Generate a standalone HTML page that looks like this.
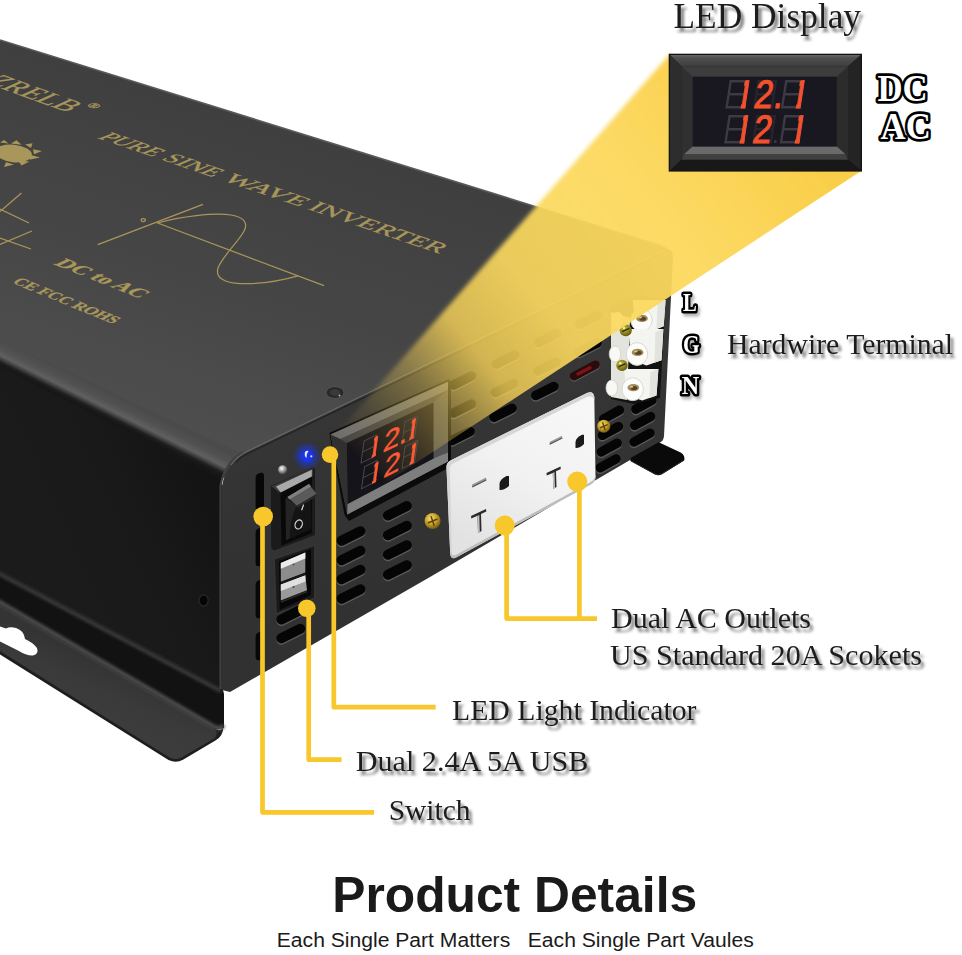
<!DOCTYPE html>
<html lang="en"><head><meta charset="utf-8"><title>Product Details</title>
<style>
html,body{margin:0;padding:0;background:#fff;}
svg{display:block}
text{font-family:"Liberation Serif",serif;}
.sans{font-family:"Liberation Sans",sans-serif;}
.seg{font-family:"Liberation Sans","DejaVu Sans",sans-serif;}
</style></head><body>
<svg width="962" height="955" viewBox="0 0 962 955">

<defs>
  <linearGradient id="gTop" gradientUnits="userSpaceOnUse" x1="300" y1="130" x2="200" y2="430">
    <stop offset="0" stop-color="#3f3f40"/><stop offset="0.55" stop-color="#464646"/><stop offset="1" stop-color="#4e4e4e"/>
  </linearGradient>
  <linearGradient id="gRoll" gradientUnits="userSpaceOnUse" x1="107.1" y1="392.3" x2="96.4" y2="413.8">
    <stop offset="0" stop-color="#4b4b4b"/><stop offset="0.35" stop-color="#525252"/><stop offset="0.60" stop-color="#606060"/><stop offset="0.72" stop-color="#444"/><stop offset="0.86" stop-color="#1e1e1e"/><stop offset="1" stop-color="#161616"/>
  </linearGradient>
  <linearGradient id="gSide" gradientUnits="userSpaceOnUse" x1="20" y1="560" x2="215" y2="470">
    <stop offset="0" stop-color="#1b1b1b"/><stop offset="0.55" stop-color="#191919"/><stop offset="1" stop-color="#131313"/>
  </linearGradient>
  <linearGradient id="gPanel" gradientUnits="userSpaceOnUse" x1="400" y1="380" x2="440" y2="600">
    <stop offset="0" stop-color="#373737"/><stop offset="0.3" stop-color="#343434"/><stop offset="1" stop-color="#313131"/>
  </linearGradient>
  <linearGradient id="gCorner" gradientUnits="userSpaceOnUse" x1="220" y1="0" x2="262" y2="0">
    <stop offset="0" stop-color="#0e0e0e" stop-opacity="1"/><stop offset="0.25" stop-color="#161616" stop-opacity="0.9"/><stop offset="0.6" stop-color="#202020" stop-opacity="0.5"/><stop offset="1" stop-color="#2a2a2a" stop-opacity="0"/>
  </linearGradient>
  <linearGradient id="gBrk" gradientUnits="userSpaceOnUse" x1="110" y1="668" x2="90" y2="712">
    <stop offset="0" stop-color="#343434"/><stop offset="0.5" stop-color="#3a3a3a"/><stop offset="1" stop-color="#3c3c3c"/>
  </linearGradient>
  <linearGradient id="gBeam" gradientUnits="userSpaceOnUse" x1="770" y1="110" x2="350" y2="455">
    <stop offset="0" stop-color="#f9cf4a" stop-opacity="1"/>
    <stop offset="0.28" stop-color="#fcd85c" stop-opacity="0.95"/>
    <stop offset="0.55" stop-color="#fbd95e" stop-opacity="0.91"/>
    <stop offset="0.70" stop-color="#f8d458" stop-opacity="0.80"/>
    <stop offset="0.82" stop-color="#f4cf52" stop-opacity="0.37"/>
    <stop offset="0.92" stop-color="#f0cb50" stop-opacity="0.13"/>
    <stop offset="1" stop-color="#f0cb50" stop-opacity="0"/>
  </linearGradient>
  <radialGradient id="gBlue" cx="0.5" cy="0.5" r="0.5">
    <stop offset="0" stop-color="#3a5cff"/><stop offset="0.55" stop-color="#1030e0"/><stop offset="1" stop-color="#0818a0" stop-opacity="0"/>
  </radialGradient>
  <radialGradient id="gGold" cx="0.4" cy="0.35" r="0.7">
    <stop offset="0" stop-color="#f6e27a"/><stop offset="0.5" stop-color="#c9a227"/><stop offset="1" stop-color="#6b5210"/>
  </radialGradient>
  <radialGradient id="gSilver" cx="0.4" cy="0.35" r="0.7">
    <stop offset="0" stop-color="#ffffff"/><stop offset="0.5" stop-color="#9a9a9a"/><stop offset="1" stop-color="#333"/>
  </radialGradient>
  <linearGradient id="gPlate" gradientUnits="userSpaceOnUse" x1="560" y1="400" x2="470" y2="545">
    <stop offset="0" stop-color="#f7f7f7"/><stop offset="0.5" stop-color="#f1f1f1"/><stop offset="1" stop-color="#e2e2e2"/>
  </linearGradient>
  <linearGradient id="gBezel" x1="0" y1="0" x2="0" y2="1">
    <stop offset="0" stop-color="#666"/><stop offset="0.25" stop-color="#505050"/><stop offset="1" stop-color="#3c3c3c"/>
  </linearGradient>
  <filter id="fShadow" x="-10%" y="-30%" width="125%" height="180%">
    <feGaussianBlur in="SourceAlpha" stdDeviation="1.6"/>
    <feOffset dx="3" dy="3.5"/>
    <feComponentTransfer><feFuncA type="linear" slope="0.55"/></feComponentTransfer>
    <feMerge><feMergeNode/><feMergeNode in="SourceGraphic"/></feMerge>
  </filter>
  <filter id="fBeam" filterUnits="userSpaceOnUse" x="300" y="30" width="600" height="480"><feGaussianBlur stdDeviation="2.2"/></filter>
  <clipPath id="cBeam"><path d="M861.5,0 L861.5,170.8 L300,539.1 L0,539 L0,0 Z"/></clipPath>
  <clipPath id="cB1"><rect x="8.7" y="-28.4" width="5.6" height="29.2"/><rect x="21.9" y="-31" width="24" height="33"/><rect x="47.6" y="-6" width="8" height="8"/><rect x="73.64" y="-28.4" width="5.6" height="29.2"/></clipPath>
  <clipPath id="cB2"><rect x="8.7" y="-28.4" width="5.6" height="29.2"/><rect x="21.9" y="-31" width="24" height="33"/><rect x="73.64" y="-28.4" width="5.6" height="29.2"/></clipPath>
  <clipPath id="cS1"><rect x="6.5" y="-21.2" width="4.2" height="21.8"/><rect x="16.8" y="-23" width="16.5" height="25"/><rect x="34.3" y="-5" width="5.4" height="7"/><rect x="44.3" y="-21.2" width="4.2" height="21.8"/></clipPath>
  <clipPath id="cS2"><rect x="6.5" y="-21.2" width="4.2" height="21.8"/><rect x="16.8" y="-23" width="16.5" height="25"/><rect x="44.1" y="-21.2" width="4.2" height="21.8"/></clipPath>
  <filter id="fShadowL" x="-30%" y="-30%" width="180%" height="180%">
    <feGaussianBlur in="SourceAlpha" stdDeviation="1.4"/>
    <feOffset dx="2" dy="2.5"/>
    <feComponentTransfer><feFuncA type="linear" slope="0.3"/></feComponentTransfer>
    <feMerge><feMergeNode/><feMergeNode in="SourceGraphic"/></feMerge>
  </filter>
  <filter id="fBlur1" filterUnits="userSpaceOnUse" x="-20" y="540" width="280" height="240"><feGaussianBlur stdDeviation="1.4"/></filter>
  <filter id="fBlur2"><feGaussianBlur stdDeviation="2.5"/></filter>
  <filter id="fBlur6"><feGaussianBlur stdDeviation="6"/></filter>
</defs>

<rect width="962" height="955" fill="#fff"/>
<path d="M0,566 L222,686 L224,694 L224,728 L214,730 L0,606 Z" fill="#121212"/>
<path d="M0,604 L213.5,728 Q222,733 223.3,726 Q223.5,736 215.4,740.6 L183,759.8 Q176,763.5 168.5,760 L0,654.5 Z" fill="#1e1e1e"/>
<path d="M0,605 L213.5,729 Q219,732 215,738 L181.5,757.5 Q176,760.5 169.5,757.5 L0,651 Z" fill="url(#gBrk)"/>
<path d="M-5,599.5 L213.5,726.5 Q221,730.5 223,725" stroke="#4e4e4e" stroke-width="4.5" fill="none" filter="url(#fBlur1)"/>
<path d="M0,626.5 L6,628.5 Q10,626.5 16,628 Q24,630.5 25,639 Q33,642.5 37,648 Q39,654 33,655.5 Q27,656 18,650.5 L0,641.5 Z" fill="#fff"/>
<path d="M0,352 L222,470 L222,689 L0,572 Z" fill="url(#gSide)"/>
<path d="M-5,571.5 L221,691" stroke="#3a3a3a" stroke-width="4" fill="none" filter="url(#fBlur1)"/>
<path d="M0,40 L662,246 Q672,249 673,258 L673,262 L262,447 Q240,452 224,478 L0,366 Z" fill="url(#gTop)"/>
<path d="M0,339 L240,452.5 Q229,461 222.5,480 L0,366.5 Z" fill="url(#gRoll)"/>
<path d="M0,40 L662,246" stroke="#5a5a5a" stroke-width="1.6" fill="none"/>
<path d="M222,690 L222,486 Q226,462 246,452 L664,250 Q673,247 673,258 L670.4,309 L666.8,380 L664,436 Q663.5,441 660,442.5 L430,577 L230,692 Z" fill="url(#gPanel)"/>
<path d="M220.5,689 L220.5,486 Q224,463 243,452.5" stroke="#404040" stroke-width="2.2" fill="none"/>
<path d="M231,465 Q237,456 248,451 L664,250" stroke="#6e6e6e" stroke-width="1.2" fill="none" opacity="0.9"/>
<path d="M236,462 Q241,456.5 250,452.5 L664,253" stroke="#1a1a1a" stroke-width="1.2" fill="none" opacity="0.7"/>
<path d="M630.5,458 L658.7,442.2 L680.6,452.6 Q685.5,455.5 684.2,460.4 L662,474.3 Q658.5,476 655,474.6 L630.5,461 Z" fill="#0a0a0a"/>
<path d="M630.5,460.6 L655,474 Q658.5,475.5 662,473.6 L684,460" stroke="#2a2a2a" stroke-width="0.9" fill="none"/>
<path d="M255.6,477.5 Q255.6,474 259.8,473 Q264,472 264,476 L264,506 Q264,509 259.8,510 Q255.6,511 255.6,507 Z" fill="#070707"/>
<path d="M255.6,532.5 Q255.6,529 259.8,528 Q264,527 264,531 L264,562 Q264,565 259.8,566 Q255.6,567 255.6,563 Z" fill="#070707"/>
<path d="M255.6,584.5 Q255.6,581 259.8,580 Q264,579 264,583 L264,614 Q264,617 259.8,618 Q255.6,619 255.6,615 Z" fill="#070707"/>
<path d="M255.6,636.5 Q255.6,633 259.8,632 Q264,631 264,635 L264,656 Q264,659 259.8,660 Q255.6,661 255.6,657 Z" fill="#070707"/>
<circle cx="282.7" cy="469.8" r="4.6" fill="url(#gSilver)"/>
<circle cx="307" cy="456" r="11" fill="#1838ff" opacity="0.55" filter="url(#fBlur2)"/>
<circle cx="307" cy="456" r="6.2" fill="#1a35e8"/>
<path d="M305,452 q2,-2 3.5,-1 q-2.5,3 -2,7 q-2.5,-2 -1.5,-6z" fill="#e8eeff"/>
<circle cx="311.3" cy="456.3" r="1.1" fill="#cfd8ff"/>
<path d="M270.8,486 L313,467.5 L315,469.5 L315,535 L274,550.5 L271.2,548 Z" fill="#1b1b1b"/>
<path d="M271.5,486.3 L313,468 L313,475.5 L279,492.5 Z" fill="#3a3a3a"/>
<path d="M276,486.6 L311.8,469.8 L311.8,476.4 L280.8,492.4 Z" fill="#a9a9a9"/>
<path d="M280.5,493 L312,477 L312,533 L281.5,545.5 Z" fill="#090909"/>
<path d="M285.5,498 L311,488 L311.5,529 L286,540.5 Z" fill="#141414"/>
<path d="M296.8,505.5 Q290,518 289.5,538.5 L286,540.5 L285.5,498 Z" fill="#242424"/>
<path d="M287.4,497 L309,484 L316.5,494 L296.8,505.8 Z" fill="#5a5a5a"/>
<path d="M287.4,497 L309,484 L311,486.5 L289.5,499.6 Z" fill="#808080"/>
<path d="M296.8,505.8 L316.5,494 L316.2,496.5 L297.2,508 Z" fill="#2a2a2a"/>
<path d="M303.6,504.6 L301.6,510.2" stroke="#e0e0e0" stroke-width="1.2" fill="none"/>
<ellipse cx="298.7" cy="524.4" rx="3.5" ry="4.6" transform="rotate(22 298.7 524.4)" fill="none" stroke="#dcdcdc" stroke-width="1.15"/>
<path d="M273,557.5 L315.8,543 L315.8,599 L275,616 Z" fill="#343434"/>
<path d="M275,559.5 L314,546.3 L314,597.5 L276.8,613 Z" fill="#1a1a1a"/>
<path d="M279,561.3 L311,548.9 L311,595 L279.8,610 Z" fill="#070707"/>
<path d="M280.8,563 L305.3,552.6 L305.3,572.4 L280.8,581.8 Z" fill="#8c8c8c"/>
<path d="M280.8,563 L305.3,552.6 L305.3,558.4 L280.8,568.8 Z" fill="#ececec"/>
<path d="M280.8,584.6 L305.3,575.2 L307,590.3 L280.8,600.6 Z" fill="#9a9a9a"/>
<path d="M280.8,584.6 L305.3,575.2 L305.5,581.6 L280.8,591 Z" fill="#e0e0e0"/>
<path d="M281,583 L305.5,573.8" stroke="#1a1a1a" stroke-width="1.8"/>
<path d="M281,602 L307,591.6" stroke="#2a2a2a" stroke-width="1.6"/>
<circle cx="293.5" cy="564.6" r="1" fill="#555"/><circle cx="293.5" cy="587" r="1" fill="#444"/>
<line x1="341.5" y1="542.2" x2="360.5" y2="532.8" stroke="#5a5a5a" stroke-width="10" stroke-linecap="round" /><line x1="341.5" y1="540.8" x2="360.5" y2="531.2" stroke="#050505" stroke-width="10" stroke-linecap="round" />
<line x1="341.5" y1="561.8" x2="360.5" y2="552.2" stroke="#5a5a5a" stroke-width="10" stroke-linecap="round" /><line x1="341.5" y1="560.2" x2="360.5" y2="550.8" stroke="#050505" stroke-width="10" stroke-linecap="round" />
<line x1="341.5" y1="580.8" x2="360.5" y2="571.2" stroke="#5a5a5a" stroke-width="10" stroke-linecap="round" /><line x1="341.5" y1="579.2" x2="360.5" y2="569.8" stroke="#050505" stroke-width="10" stroke-linecap="round" />
<line x1="341.5" y1="600.2" x2="360.5" y2="590.8" stroke="#5a5a5a" stroke-width="10" stroke-linecap="round" /><line x1="341.5" y1="598.8" x2="360.5" y2="589.2" stroke="#050505" stroke-width="10" stroke-linecap="round" />
<line x1="387.9" y1="517.0" x2="406.9" y2="507.6" stroke="#5a5a5a" stroke-width="10" stroke-linecap="round" /><line x1="387.9" y1="515.5" x2="406.9" y2="506.1" stroke="#050505" stroke-width="10" stroke-linecap="round" />
<line x1="387.9" y1="536.8" x2="406.9" y2="527.2" stroke="#5a5a5a" stroke-width="10" stroke-linecap="round" /><line x1="387.9" y1="535.2" x2="406.9" y2="525.8" stroke="#050505" stroke-width="10" stroke-linecap="round" />
<line x1="387.9" y1="556.2" x2="406.9" y2="546.8" stroke="#5a5a5a" stroke-width="10" stroke-linecap="round" /><line x1="387.9" y1="554.8" x2="406.9" y2="545.2" stroke="#050505" stroke-width="10" stroke-linecap="round" />
<line x1="387.9" y1="576.2" x2="406.9" y2="566.8" stroke="#5a5a5a" stroke-width="10" stroke-linecap="round" /><line x1="387.9" y1="574.8" x2="406.9" y2="565.2" stroke="#050505" stroke-width="10" stroke-linecap="round" />
<line x1="281.3" y1="621.0" x2="300.3" y2="611.5" stroke="#5a5a5a" stroke-width="10" stroke-linecap="round" /><line x1="281.3" y1="619.5" x2="300.3" y2="610.0" stroke="#050505" stroke-width="10" stroke-linecap="round" />
<line x1="281.3" y1="639.8" x2="300.3" y2="630.2" stroke="#5a5a5a" stroke-width="10" stroke-linecap="round" /><line x1="281.3" y1="638.2" x2="300.3" y2="628.8" stroke="#050505" stroke-width="10" stroke-linecap="round" />
<line x1="603.5" y1="420.5" x2="619.5" y2="411.7" stroke="#5a5a5a" stroke-width="9.4" stroke-linecap="round" /><line x1="603.5" y1="419.0" x2="619.5" y2="410.2" stroke="#050505" stroke-width="9.4" stroke-linecap="round" />
<line x1="602.4" y1="436.9" x2="618.4" y2="428.1" stroke="#5a5a5a" stroke-width="9.4" stroke-linecap="round" /><line x1="602.4" y1="435.4" x2="618.4" y2="426.6" stroke="#050505" stroke-width="9.4" stroke-linecap="round" />
<line x1="601.2" y1="453.5" x2="617.2" y2="444.7" stroke="#5a5a5a" stroke-width="9.4" stroke-linecap="round" /><line x1="601.2" y1="452.0" x2="617.2" y2="443.2" stroke="#050505" stroke-width="9.4" stroke-linecap="round" />
<line x1="600.0" y1="469.3" x2="616.0" y2="460.5" stroke="#5a5a5a" stroke-width="9.4" stroke-linecap="round" /><line x1="600.0" y1="467.8" x2="616.0" y2="459.0" stroke="#050505" stroke-width="9.4" stroke-linecap="round" />
<line x1="635.8" y1="410.7" x2="651.8" y2="401.9" stroke="#5a5a5a" stroke-width="9.4" stroke-linecap="round" /><line x1="635.8" y1="409.2" x2="651.8" y2="400.4" stroke="#050505" stroke-width="9.4" stroke-linecap="round" />
<line x1="634.6" y1="426.9" x2="650.6" y2="418.1" stroke="#5a5a5a" stroke-width="9.4" stroke-linecap="round" /><line x1="634.6" y1="425.4" x2="650.6" y2="416.6" stroke="#050505" stroke-width="9.4" stroke-linecap="round" />
<line x1="634.0" y1="443.5" x2="650.0" y2="434.7" stroke="#5a5a5a" stroke-width="9.4" stroke-linecap="round" /><line x1="634.0" y1="442.0" x2="650.0" y2="433.2" stroke="#050505" stroke-width="9.4" stroke-linecap="round" />
<line x1="410.0" y1="408.0" x2="428.0" y2="399.0" stroke="#5a5a5a" stroke-width="9.6" stroke-linecap="round" /><line x1="410.0" y1="406.5" x2="428.0" y2="397.5" stroke="#050505" stroke-width="9.6" stroke-linecap="round" />
<line x1="453.5" y1="386.5" x2="471.5" y2="377.5" stroke="#5a5a5a" stroke-width="9.6" stroke-linecap="round" /><line x1="453.5" y1="385.0" x2="471.5" y2="376.0" stroke="#050505" stroke-width="9.6" stroke-linecap="round" />
<line x1="496.5" y1="365.5" x2="514.5" y2="356.5" stroke="#5a5a5a" stroke-width="9.6" stroke-linecap="round" /><line x1="496.5" y1="364.0" x2="514.5" y2="355.0" stroke="#050505" stroke-width="9.6" stroke-linecap="round" />
<line x1="538.8" y1="344.0" x2="556.8" y2="335.0" stroke="#5a5a5a" stroke-width="9.6" stroke-linecap="round" /><line x1="538.8" y1="342.5" x2="556.8" y2="333.5" stroke="#050505" stroke-width="9.6" stroke-linecap="round" />
<line x1="579.5" y1="326.0" x2="597.5" y2="317.0" stroke="#5a5a5a" stroke-width="9.6" stroke-linecap="round" /><line x1="579.5" y1="324.5" x2="597.5" y2="315.5" stroke="#050505" stroke-width="9.6" stroke-linecap="round" />
<line x1="410.0" y1="436.0" x2="428.0" y2="427.0" stroke="#5a5a5a" stroke-width="9.6" stroke-linecap="round" /><line x1="410.0" y1="434.5" x2="428.0" y2="425.5" stroke="#050505" stroke-width="9.6" stroke-linecap="round" />
<line x1="453.5" y1="414.5" x2="471.5" y2="405.5" stroke="#5a5a5a" stroke-width="9.6" stroke-linecap="round" /><line x1="453.5" y1="413.0" x2="471.5" y2="404.0" stroke="#050505" stroke-width="9.6" stroke-linecap="round" />
<line x1="495.5" y1="394.0" x2="513.5" y2="385.0" stroke="#5a5a5a" stroke-width="9.6" stroke-linecap="round" /><line x1="495.5" y1="392.5" x2="513.5" y2="383.5" stroke="#050505" stroke-width="9.6" stroke-linecap="round" />
<line x1="538.0" y1="372.5" x2="556.0" y2="363.5" stroke="#5a5a5a" stroke-width="9.6" stroke-linecap="round" /><line x1="538.0" y1="371.0" x2="556.0" y2="362.0" stroke="#050505" stroke-width="9.6" stroke-linecap="round" />
<line x1="579.0" y1="353.5" x2="597.0" y2="344.5" stroke="#5a5a5a" stroke-width="9.6" stroke-linecap="round" /><line x1="579.0" y1="352.0" x2="597.0" y2="343.0" stroke="#050505" stroke-width="9.6" stroke-linecap="round" />
<line x1="452.0" y1="442.0" x2="470.0" y2="433.0" stroke="#5a5a5a" stroke-width="9.6" stroke-linecap="round" /><line x1="452.0" y1="440.5" x2="470.0" y2="431.5" stroke="#050505" stroke-width="9.6" stroke-linecap="round" />
<line x1="494.0" y1="418.8" x2="512.0" y2="409.8" stroke="#5a5a5a" stroke-width="9.6" stroke-linecap="round" /><line x1="494.0" y1="417.3" x2="512.0" y2="408.3" stroke="#050505" stroke-width="9.6" stroke-linecap="round" />
<line x1="535.8" y1="397.0" x2="553.8" y2="388.0" stroke="#5a5a5a" stroke-width="9.6" stroke-linecap="round" /><line x1="535.8" y1="395.5" x2="553.8" y2="386.5" stroke="#050505" stroke-width="9.6" stroke-linecap="round" />
<line x1="574.0" y1="377.5" x2="595.5" y2="366.0" stroke="#5a5a5a" stroke-width="8.4" stroke-linecap="round" />
<line x1="574.0" y1="376.3" x2="595.5" y2="364.8" stroke="#2a0a0c" stroke-width="8.4" stroke-linecap="round" />
<line x1="578.0" y1="374.0" x2="590.0" y2="367.7" stroke="#7a1418" stroke-width="3.5" stroke-linecap="round" />
<circle cx="432.6" cy="521" r="8" fill="url(#gGold)"/><path d="M427.8,523.0 L437.40000000000003,519.0 M431.0,516.2 L434.20000000000005,525.8" stroke="#5a430c" stroke-width="1.5" fill="none"/>
<circle cx="603.8" cy="426.2" r="6.5" fill="url(#gGold)"/><path d="M599.9,427.825 L607.6999999999999,424.575 M602.5,422.3 L605.0999999999999,430.09999999999997" stroke="#5a430c" stroke-width="1.5" fill="none"/>
<path d="M329.3,433 L449,379.3 L451,382 L451,466.5 L349,521 L344.5,515 Z" fill="#0b0b0b"/>
<path d="M330.5,434.5 L448,381.8 L448,461.5 L347.3,514.5 Z" fill="#484848"/>
<path d="M330.5,434.5 L340,438.5 L346.8,443 L347.6,503.8 L347.3,514.5 Z" fill="#303030"/>
<path d="M330.5,434.5 L448,381.8 L448,390 L340.5,439 Z" fill="#6e6e6e"/>
<path d="M340.5,439 L448,390 L433.5,402.4 L346.8,443 Z" fill="#454545"/>
<path d="M433.5,402.4 L448,390 L448,452.5 L433.5,458.6 Z" fill="#525252"/>
<path d="M347.6,504 L433.5,458.6 L448,452.5 L448,461.5 L347.3,514.5 Z" fill="#7e7e7e"/>
<path d="M346.8,443 L433.5,402.4 L433.5,458.6 L347.6,504 Z" fill="#15141a"/>
<path d="M446.5,468 Q446,463 450.5,460.5 L587,393 Q593.5,390.5 594.3,397 L595.5,477 Q595.5,482 591,484.5 L456.5,557.3 Q450.8,560.2 450.2,553.5 Z" fill="url(#gPlate)"/>
<path d="M446.5,468 Q446,463 450.5,460.5 L587,393 Q593.5,390.5 594.3,397 L594.4,400 Q592.5,395 587,397 L453,463.5 Q449.5,465.5 449.8,470 L452,555 Q450.3,555 450.2,553.5 Z" fill="#d6d6d6"/>
<path d="M450.2,553.5 Q450.8,560.2 456.5,557.3 L591,484.5 Q595.5,482 595.5,477 L595.4,474.5 Q595,479.5 591,481.8 L456.5,554.5 Q451.5,556.8 450.4,551.5 Z" fill="#bdbdbd"/>
<path d="M472,484.5 L486,477.5 L486.3,480.5 L472.3,487.5 Z" fill="#9a9a9a"/>
<path d="M472.3,486.2 L486.3,479.2 L486.3,480.5 L472.3,487.5 Z" fill="#555"/>
<path d="M499.5,484 Q500,479 506.5,476 L509,476 L509,486 Q504,490.5 499.5,490 Z" fill="#1a1a1a"/>
<path d="M471,516 L486,509 L486.3,511.5 L481,514 L481.5,531 L478,533 L477.5,515.8 L471.3,518.6 Z" fill="#2a2a2a"/>
<path d="M477.5,515.8 L479.3,515 L479.8,532 L478,533 Z" fill="#c0c0c0"/>
<path d="M549.5,442 L562,435.8 L562.3,438.6 L549.8,444.8 Z" fill="#9a9a9a"/>
<path d="M549.8,443.6 L562.3,437.4 L562.3,438.6 L549.8,444.8 Z" fill="#555"/>
<path d="M575.5,442 Q576,437.5 582,434.8 L584,434.8 L584,444 Q580,448.3 575.5,448 Z" fill="#1a1a1a"/>
<path d="M546.5,473 L560.5,466.5 L560.8,469 L556,471.3 L556.5,487 L553.3,488.8 L552.8,472.9 L546.8,475.6 Z" fill="#2a2a2a"/>
<path d="M552.8,472.9 L554.5,472.1 L555,487.9 L553.3,488.8 Z" fill="#c0c0c0"/>
<path d="M611,306 L611,399 L634,404 L660,398 L665.5,300 L640,296 Z" fill="#121212"/>
<path d="M611,312 L611,397 L627,400 L630,318 Z" fill="#e4e4de"/>
<ellipse cx="617.5" cy="320" rx="5.8" ry="8" fill="#f8f8f5" stroke="#d0d0c9" stroke-width="0.8"/>
<ellipse cx="615" cy="354" rx="5.8" ry="8" fill="#f8f8f5" stroke="#d0d0c9" stroke-width="0.8"/>
<ellipse cx="611.8" cy="388" rx="5.8" ry="8" fill="#f8f8f5" stroke="#d0d0c9" stroke-width="0.8"/>
<path d="M632.6999999999999,300 L665.6,300 L663.7,326.3 L650.9,331.4 L635.4,326 Z" fill="#f4f4f1"/><path d="M657.6,303 L665.6,300 L663.7,326.3 L656.6,328.7 Z" fill="#e3e3de"/><ellipse cx="641.4" cy="320" rx="10.7" ry="11.4" fill="#fcfcfa" stroke="#d6d6cf" stroke-width="0.9"/><ellipse cx="642.0" cy="318.4" rx="5.8" ry="3.6" fill="#a08a58"/><ellipse cx="642.6" cy="318.8" rx="3.4" ry="2.0" fill="#5a4026"/><ellipse cx="640.1999999999999" cy="317.6" rx="1.8" ry="1.0" fill="#d9c88e"/>
<path d="M628.3,329 L663.4,329 L661.5,360.3 L646.5,365.4 L631,360 Z" fill="#f4f4f1"/><path d="M655.4,332 L663.4,329 L661.5,360.3 L654.4,362.7 Z" fill="#e3e3de"/><ellipse cx="637" cy="354" rx="10.7" ry="11.4" fill="#fcfcfa" stroke="#d6d6cf" stroke-width="0.9"/><ellipse cx="637.6" cy="352.4" rx="5.8" ry="3.6" fill="#a08a58"/><ellipse cx="638.2" cy="352.8" rx="3.4" ry="2.0" fill="#5a4026"/><ellipse cx="635.8" cy="351.6" rx="1.8" ry="1.0" fill="#d9c88e"/>
<path d="M624.0,369.0 L658.4000000000001,369.0 L656.5000000000001,395.5 L642.2,400.59999999999997 L626.7,395.2 Z" fill="#f4f4f1"/><path d="M650.4000000000001,372.0 L658.4000000000001,369.0 L656.5000000000001,395.5 L649.4000000000001,397.9 Z" fill="#e3e3de"/><ellipse cx="632.7" cy="389.2" rx="10.7" ry="11.4" fill="#fcfcfa" stroke="#d6d6cf" stroke-width="0.9"/><ellipse cx="633.3000000000001" cy="387.59999999999997" rx="5.8" ry="3.6" fill="#a08a58"/><ellipse cx="633.9000000000001" cy="388.0" rx="3.4" ry="2.0" fill="#5a4026"/><ellipse cx="631.5" cy="386.8" rx="1.8" ry="1.0" fill="#d9c88e"/>
<circle cx="625.7" cy="330.2" r="6.0" fill="url(#gGold)"/><circle cx="625.7" cy="330.2" r="6.0" fill="#3c5a0a" opacity="0.32"/>
<path d="M622.1,331.59999999999997 L629.3000000000001,328.4" stroke="#26300a" stroke-width="1.4"/>
<circle cx="623.9000000000001" cy="328.0" r="1.3" fill="#f2e9a0"/>
<circle cx="622" cy="365.4" r="5.6" fill="url(#gGold)"/><circle cx="622" cy="365.4" r="5.6" fill="#3c5a0a" opacity="0.32"/>
<path d="M618.4,366.79999999999995 L625.6,363.59999999999997" stroke="#26300a" stroke-width="1.4"/>
<circle cx="620.2" cy="363.2" r="1.3" fill="#f2e9a0"/>
<text transform="matrix(1 0.3384 -1.0428 0.3980 96.5 137.7)" font-size="21.5" fill="#a8965a" stroke="#a8965a" stroke-width="0.35" textLength="56.5" lengthAdjust="spacingAndGlyphs">PURE</text>
<text transform="matrix(1 0.3384 -0.9265 0.4034 160.3 159.3)" font-size="23" fill="#a8965a" stroke="#a8965a" stroke-width="0.35" textLength="52.5" lengthAdjust="spacingAndGlyphs">SINE</text>
<text transform="matrix(1 0.3384 -0.7685 0.3901 221.0 179.9)" font-size="26" fill="#a8965a" stroke="#a8965a" stroke-width="0.35" textLength="79" lengthAdjust="spacingAndGlyphs">WAVE</text>
<text transform="matrix(1 0.3384 -0.6654 0.4241 306.5 208.8)" font-size="27" fill="#a8965a" stroke="#a8965a" stroke-width="0.35" textLength="132.5" lengthAdjust="spacingAndGlyphs">INVERTER</text>
<text transform="matrix(1 0.3600 -1.0200 0.4600 -16.5 82.2)" font-size="26.5" fill="#a8965a" stroke="#a8965a" stroke-width="0.35" textLength="84" lengthAdjust="spacingAndGlyphs">ZRELB</text>
<text transform="matrix(1 0.3600 -0.9550 0.4360 85.5 105.8)" font-size="12" fill="#a8965a" stroke="#a8965a" stroke-width="0.35" textLength="9.5" lengthAdjust="spacingAndGlyphs">®</text>
<text transform="matrix(1 0.3970 -0.9250 0.4330 53.0 264.0)" font-size="20.5" font-weight="bold" fill="#a8965a" stroke="#a8965a" stroke-width="0.35" textLength="86.6" lengthAdjust="spacingAndGlyphs">DC to AC</text>
<text transform="matrix(1 0.4090 -0.9000 0.5400 11.5 282.5)" font-size="15" font-weight="bold" fill="#a8965a" stroke="#a8965a" stroke-width="0.35" textLength="101.5" lengthAdjust="spacingAndGlyphs">CE FCC ROHS</text>
<g fill="#a8965a"><ellipse cx="13.5" cy="153.4" rx="18.5" ry="8.8" transform="rotate(6 13.5 153.4)"/><path d="M11,143.5 l5.5,-3.2 l5,4.4z M25,144.5 l7.5,-1.2 l-1.5,4.6z M33,149.3 l9,1.6 l-8,3.4z M31,155 l9,2.4 l-10.5,2.4z M18,160.5 l11.5,1 l-8,4z M6,162.3 l8,2.2 l-10,2.5z M0,142.5 l4,-2.5 l4.5,3.5z"/></g>
<g stroke="#a8965a" stroke-width="1.25" fill="none"><path d="M0,209 L29,223 M21.5,193 L0,211.5 M32,231 L0,244.5 M0,238 L31,249"/></g>
<g stroke="#a8965a" stroke-width="1.25" fill="none"><path d="M97.8,244.6 L203,204.3"/><path d="M156.3,222.5 L324,285.7"/><path d="M158,223 C180,216.5 214,212.5 231,215 C245,217 248.5,224 243.5,232 C238,242 222,257 218,268 C215,278 225,283 240,283.6 C262,284.2 285,279.5 298,275.8"/><ellipse cx="143.3" cy="220" rx="2.1" ry="1.5"/></g>
<ellipse cx="335" cy="392.5" rx="9" ry="6" fill="#2a2a2a" stroke="#555" stroke-width="1"/>
<ellipse cx="335" cy="392.5" rx="5" ry="3.2" fill="#3a3a3a"/><circle cx="339.5" cy="395.5" r="1" fill="#bbb"/>
<ellipse cx="203.6" cy="600.5" rx="4.6" ry="5.6" fill="#050505" stroke="#2a2a2a" stroke-width="1.2"/>
<g clip-path="url(#cBeam)"><path d="M669,55 L872,171 L398,490 L336,434 Z" fill="url(#gBeam)" filter="url(#fBeam)"/></g>
<g transform="matrix(1 -0.47 -0.14 1 360.5 463.2)" stroke="#5a5a5a" stroke-width="1" fill="none" opacity="0.8"><rect x="0.5" y="-22" width="12.5" height="22"/><line x1="0.5" y1="-11" x2="13" y2="-11"/></g>
<g transform="matrix(1 -0.47 -0.14 1 401.5 443.9)" stroke="#5a5a5a" stroke-width="1" fill="none" opacity="0.8"><rect x="0.5" y="-22" width="12.5" height="22"/><line x1="0.5" y1="-11" x2="13" y2="-11"/></g>
<g transform="matrix(1 -0.5 -0.14 1 361 489)" stroke="#5a5a5a" stroke-width="1" fill="none" opacity="0.8"><rect x="0.5" y="-22" width="12.5" height="22"/><line x1="0.5" y1="-11" x2="13" y2="-11"/></g>
<g transform="matrix(1 -0.5 -0.14 1 401.5 468.7)" stroke="#5a5a5a" stroke-width="1" fill="none" opacity="0.8"><rect x="0.5" y="-22" width="12.5" height="22"/><line x1="0.5" y1="-11" x2="13" y2="-11"/></g>
<text transform="matrix(1 -0.47 -0.14 1 365.00 460.80)" class="seg" font-size="29.5" fill="#ff5a36" stroke="#ff5a36" stroke-width="0.5" clip-path="url(#cS1)" x="0 17.3 33.5 37.8" y="0">12.1</text>
<text transform="matrix(1 -0.5 -0.14 1 365.40 486.90)" class="seg" font-size="29.5" fill="#ff5a36" stroke="#ff5a36" stroke-width="0.5" clip-path="url(#cS2)" x="0 17.3 37.6" y="0">121</text>
<rect x="668.7" y="53.7" width="193.3" height="117.9" fill="#131313"/>
<path d="M670,55 L860.7,55 L847.7,66.8 L681.8,66.8 Z" fill="url(#gBezel)"/>
<path d="M670,55 L681.8,66.8 L681.8,159.6 L670,170.4 Z" fill="#2d2d2d"/>
<path d="M860.7,55 L847.7,66.8 L847.7,159.6 L860.7,170.4 Z" fill="#242424"/>
<path d="M670,170.4 L681.8,159.6 L847.7,159.6 L860.7,170.4 Z" fill="#181818"/>
<rect x="681.8" y="66.8" width="165.9" height="92.8" fill="#3a3a3a"/>
<path d="M681.8,66.8 L847.7,66.8 L836.8,76.7 L692.7,76.7 Z" fill="#3d3d3d"/>
<path d="M681.8,66.8 L692.7,76.7 L692.7,146.5 L681.8,159.6 Z" fill="#303030"/>
<path d="M847.7,66.8 L836.8,76.7 L836.8,146.5 L847.7,159.6 Z" fill="#2c2c2c"/>
<path d="M692.7,146.5 L836.8,146.5 L845.5,154.2 L684,154.2 Z" fill="#6a6a6a"/>
<path d="M684,154.2 L845.5,154.2 L847.7,159.6 L681.8,159.6 Z" fill="#404040"/>
<rect x="692.7" y="76.7" width="144.1" height="69.8" fill="#19171f"/>
<g transform="matrix(1 0 -0.155 1 725.5 108.3)" stroke="#3b3a45" stroke-width="2.4" fill="none"><rect x="1" y="-27" width="17.5" height="26"/><line x1="1" y1="-14.0" x2="18.5" y2="-14.0"/></g>
<g transform="matrix(1 0 -0.155 1 781 108.3)" stroke="#3b3a45" stroke-width="2.4" fill="none"><rect x="1" y="-27" width="17.5" height="26"/><line x1="1" y1="-14.0" x2="18.5" y2="-14.0"/></g>
<g transform="matrix(1 0 -0.155 1 753.3 108.3)" stroke="#26252d" stroke-width="2.4" fill="none"><rect x="1" y="-27" width="17.5" height="26"/><line x1="1" y1="-14.0" x2="18.5" y2="-14.0"/></g>
<g transform="matrix(1 0 -0.155 1 724.4 143.2)" stroke="#3b3a45" stroke-width="2.4" fill="none"><rect x="1" y="-27" width="17.5" height="26"/><line x1="1" y1="-14.0" x2="18.5" y2="-14.0"/></g>
<g transform="matrix(1 0 -0.155 1 779.9 143.2)" stroke="#3b3a45" stroke-width="2.4" fill="none"><rect x="1" y="-27" width="17.5" height="26"/><line x1="1" y1="-14.0" x2="18.5" y2="-14.0"/></g>
<g transform="matrix(1 0 -0.155 1 752.1999999999999 143.2)" stroke="#26252d" stroke-width="2.4" fill="none"><rect x="1" y="-27" width="17.5" height="26"/><line x1="1" y1="-14.0" x2="18.5" y2="-14.0"/></g>
<text transform="matrix(0.85 0 -0.155 1 733.2 108.3)" class="seg" font-size="39.5" fill="#f5502c" stroke="#f5502c" stroke-width="1.1" clip-path="url(#cB1)" x="0 22.94 46.35 64.94" y="0">12.1</text>
<text transform="matrix(0.85 0 -0.155 1 732.1 143.2)" class="seg" font-size="39.5" fill="#f5502c" stroke="#f5502c" stroke-width="1.1" clip-path="url(#cB2)" x="0 22.94 64.94" y="0">121</text>
<rect x="774" y="140.2" width="2.6" height="2.6" fill="#3a3944"/>
<path d="M262.5,517 L262.5,812.4 L374,812.4" stroke="#f8c72b" stroke-width="4.7" fill="none" stroke-linejoin="round"/>
<path d="M308.7,608 L308.7,759.7 L341.6,759.7" stroke="#f8c72b" stroke-width="4.7" fill="none" stroke-linejoin="round"/>
<path d="M333.8,455 L333.8,707.2 L435.6,707.2" stroke="#f8c72b" stroke-width="4.7" fill="none" stroke-linejoin="round"/>
<path d="M506.6,526 L506.6,618.6 L597,618.6" stroke="#f8c72b" stroke-width="4.7" fill="none" stroke-linejoin="round"/>
<path d="M579.4,482 L579.4,618.6" stroke="#f8c72b" stroke-width="4.7" fill="none" stroke-linejoin="round"/>
<circle cx="263.2" cy="516.5" r="9.8" fill="#f8c72b"/>
<circle cx="306.8" cy="608.3" r="8.8" fill="#f8c72b"/>
<circle cx="330" cy="454.6" r="8.3" fill="#f8c72b"/>
<circle cx="504.7" cy="525.5" r="10" fill="#f8c72b"/>
<circle cx="577.2" cy="481.6" r="10" fill="#f8c72b"/>
<text x="673.5" y="27.5" font-size="35.5" fill="#1c1c1c" textLength="187.5" lengthAdjust="spacingAndGlyphs" filter="url(#fShadow)">LED Display</text>
<text x="727" y="353.5" font-size="30" fill="#1c1c1c" textLength="226" lengthAdjust="spacingAndGlyphs" filter="url(#fShadow)">Hardwire Terminal</text>
<text x="611" y="627.5" font-size="30" fill="#1c1c1c" textLength="200" lengthAdjust="spacingAndGlyphs" filter="url(#fShadow)">Dual AC Outlets</text>
<text x="610" y="665" font-size="30" fill="#1c1c1c" textLength="312" lengthAdjust="spacingAndGlyphs" filter="url(#fShadow)">US Standard 20A Scokets</text>
<text x="452" y="720.3" font-size="30" fill="#1c1c1c" textLength="244.5" lengthAdjust="spacingAndGlyphs" filter="url(#fShadow)">LED Light Indicator</text>
<text x="355.8" y="770.8" font-size="30" fill="#1c1c1c" textLength="232.5" lengthAdjust="spacingAndGlyphs" filter="url(#fShadow)">Dual 2.4A 5A USB</text>
<text x="388.7" y="819.7" font-size="30" fill="#1c1c1c" textLength="81.8" lengthAdjust="spacingAndGlyphs" filter="url(#fShadow)">Switch</text>
<g><text x="877.4" y="101.0" font-size="37.8" font-weight="bold" fill="#fff" stroke="#000" stroke-width="5.6" stroke-linejoin="round" paint-order="stroke" textLength="50.2" lengthAdjust="spacingAndGlyphs">DC</text></g>
<g><text x="880.6" y="139.2" font-size="37.8" font-weight="bold" fill="#fff" stroke="#000" stroke-width="5.6" stroke-linejoin="round" paint-order="stroke" textLength="50.2" lengthAdjust="spacingAndGlyphs">AC</text></g>
<g filter="url(#fShadowL)"><text x="683.0" y="311.0" font-size="25" font-weight="bold" fill="#fff" stroke="#000" stroke-width="5.2" stroke-linejoin="round" paint-order="stroke" textLength="13.8" lengthAdjust="spacingAndGlyphs">L</text></g>
<g filter="url(#fShadowL)"><text x="683.0" y="352.9" font-size="25" font-weight="bold" fill="#fff" stroke="#000" stroke-width="5.2" stroke-linejoin="round" paint-order="stroke" textLength="16.6" lengthAdjust="spacingAndGlyphs">G</text></g>
<g filter="url(#fShadowL)"><text x="681.8" y="394.4" font-size="25" font-weight="bold" fill="#fff" stroke="#000" stroke-width="5.2" stroke-linejoin="round" paint-order="stroke" textLength="17.4" lengthAdjust="spacingAndGlyphs">N</text></g>
<text class="sans" x="332.2" y="911.6" font-size="50" font-weight="bold" fill="#1a1a1a" textLength="365" lengthAdjust="spacingAndGlyphs">Product Details</text>
<text class="sans" x="276.8" y="947.2" font-size="19.6" fill="#1a1a1a" textLength="477" lengthAdjust="spacingAndGlyphs" xml:space="preserve">Each Single Part Matters   Each Single Part Vaules</text>
</svg>
</body></html>
